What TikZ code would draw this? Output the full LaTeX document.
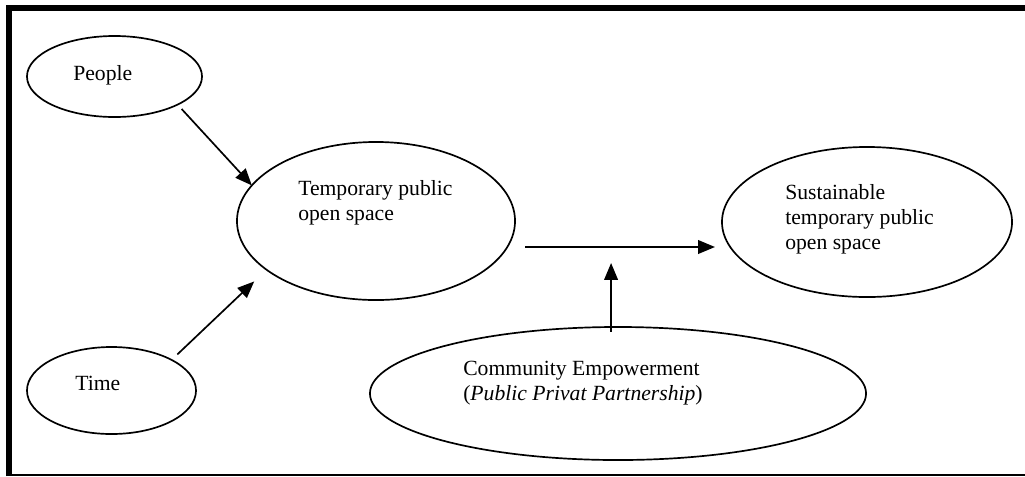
\documentclass[tikz,border=0pt]{standalone}
\usepackage{fontspec}
\setmainfont{Liberation Serif}
\usetikzlibrary{arrows.meta, positioning, shapes.geometric}

\tikzset{
    bubble/.style={ellipse, draw, line width=1.2pt, outer sep=0pt, inner sep=0pt},
    txt/.style={inner sep=0pt, anchor=base west, align=left,
        font=\fontsize{15.4}{17.5}\selectfont},
    arr/.style={line width=1.2pt, -{Triangle[length=0.42cm, width=0.34cm]}}
}

\begin{document}
\begin{tikzpicture}[x=0.025cm, y=-0.025cm]
        \useasboundingbox (0,0) rectangle (1025,476);

        % Frame
        \draw[line width=4.3pt] (9,476) -- (9,8) -- (1025,8);
        \draw[line width=1pt] (9,474.8) -- (1025,474.8);

        % Ellipses
        \node[bubble, minimum width=4.375cm, minimum height=2.025cm] (people) at (114.5,76.5) {};
        \node[bubble, minimum width=4.225cm, minimum height=2.175cm] (time) at (111.5,390.5) {};
        \node[bubble, minimum width=6.95cm, minimum height=3.95cm] (temp) at (376,221) {};
        \node[bubble, minimum width=7.25cm, minimum height=3.75cm] (sust) at (867,222) {};
        \node[bubble, minimum width=12.4cm, minimum height=3.325cm] (comm) at (618,393.5) {};

        % Labels (base = last line)
        \node[txt] (peoplelbl) at (73,80) {People};
        \node[txt] (timelbl) at (75,390) {Time};
        \node[txt] (templbl) at (298,220) {Temporary public\\open space};
        \node[txt] (sustlbl) at (785,249) {Sustainable\\temporary public\\open space};
        \node[txt] (commlbl) at (463,400) {Community Empowerment\\(\textit{Public Privat Partnership})};

        % Arrows
        \draw[arr, shorten <=0.15cm] (people.-24) -- (temp.164);
        \draw[arr, shorten <=0.2cm, shorten >=0.425cm] (time.27) -- (temp.204);
        \draw[arr] ([shift={(10,26)}]temp.east) -- coordinate[pos=0.453] (mid) ([shift={(-7,25)}]sust.west);
        \draw[arr, shorten <=-0.125cm, shorten >=0.4cm] (comm.north -| mid) -- (mid);
    \end{tikzpicture}
\end{document}
